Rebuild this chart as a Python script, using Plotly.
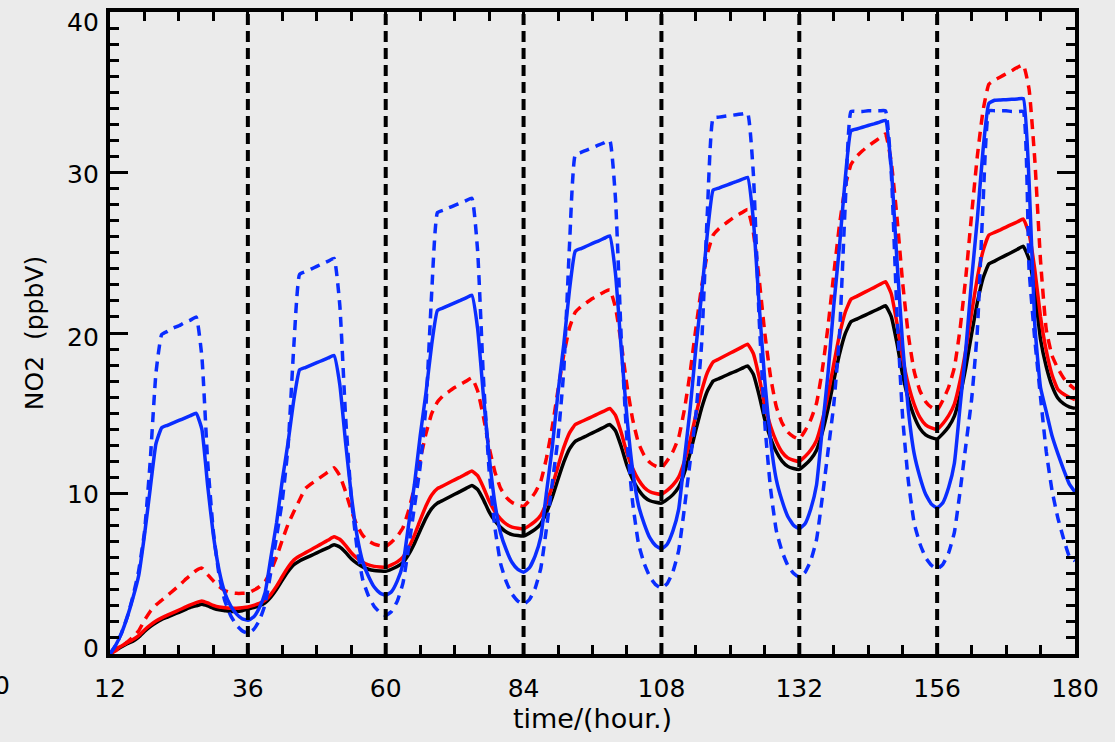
import plotly.graph_objects as go

# Hourly model output, t = 12 ... 180 h
hours = list(range(12, 181))

no2_base = [
    0.0, 0.25, 0.45, 0.65, 0.8, 1.05, 1.4, 1.7, 1.95, 2.15, 2.3, 2.45, 2.6, 2.75, 2.9, 3.0, 3.1, 3.0, 2.85, 2.75, 2.7, 2.65, 2.65, 2.7,
    2.8, 2.89, 3.01, 3.19, 3.55, 4.03, 4.6, 5.14, 5.56, 5.8, 5.97, 6.13, 6.3, 6.47, 6.63, 6.8, 6.67, 6.34, 5.94, 5.65, 5.43, 5.28, 5.2, 5.17,
    5.15, 5.28, 5.45, 5.7, 6.21, 6.89, 7.7, 8.47, 9.06, 9.4, 9.58, 9.77, 9.95, 10.13, 10.32, 10.5, 10.25, 9.62, 8.86, 8.3, 7.89, 7.6, 7.44, 7.38,
    7.35, 7.53, 7.76, 8.12, 8.83, 9.77, 10.89, 11.95, 12.78, 13.25, 13.43, 13.6, 13.78, 13.95, 14.13, 14.3, 13.91, 12.93, 11.75, 10.87, 10.23, 9.79, 9.55, 9.45,
    9.4, 9.63, 9.93, 10.39, 11.3, 12.52, 13.96, 15.33, 16.39, 17.0, 17.16, 17.32, 17.48, 17.63, 17.79, 17.95, 17.43, 16.14, 14.6, 13.44, 12.6, 12.02, 11.69, 11.56,
    11.5, 11.78, 12.14, 12.7, 13.8, 15.27, 17.02, 18.68, 19.96, 20.7, 20.87, 21.03, 21.2, 21.37, 21.53, 21.7, 21.04, 19.38, 17.38, 15.89, 14.81, 14.06, 13.65, 13.48,
    13.4, 13.73, 14.16, 14.82, 16.13, 17.87, 19.94, 21.9, 23.43, 24.3, 24.48, 24.67, 24.85, 25.03, 25.22, 25.4, 24.59, 22.57, 19.6, 17.9, 16.7, 15.95, 15.6, 15.4, 15.3,
]

no2_red = [
    0.0, 0.3, 0.5, 0.7, 0.9, 1.15, 1.5, 1.8, 2.05, 2.25, 2.42, 2.58, 2.74, 2.9, 3.06, 3.2, 3.3, 3.18, 3.03, 2.93, 2.88, 2.85, 2.85, 2.88,
    2.93, 3.03, 3.15, 3.34, 3.72, 4.23, 4.83, 5.4, 5.85, 6.1, 6.3, 6.5, 6.7, 6.9, 7.1, 7.3, 7.15, 6.77, 6.31, 5.97, 5.72, 5.55, 5.46, 5.42,
    5.4, 5.55, 5.74, 6.04, 6.63, 7.41, 8.34, 9.22, 9.91, 10.3, 10.48, 10.67, 10.85, 11.03, 11.22, 11.4, 11.11, 10.39, 9.53, 8.88, 8.41, 8.09, 7.91, 7.84,
    7.8, 8.0, 8.26, 8.65, 9.43, 10.47, 11.7, 12.87, 13.78, 14.3, 14.47, 14.63, 14.8, 14.97, 15.13, 15.3, 14.87, 13.8, 12.52, 11.56, 10.86, 10.38, 10.11, 10.0,
    9.95, 10.2, 10.53, 11.02, 12.01, 13.33, 14.9, 16.39, 17.54, 18.2, 18.38, 18.57, 18.75, 18.93, 19.12, 19.3, 18.72, 17.26, 15.5, 14.19, 13.24, 12.58, 12.22, 12.07,
    12.0, 12.3, 12.71, 13.31, 14.53, 16.14, 18.06, 19.88, 21.29, 22.1, 22.28, 22.47, 22.65, 22.83, 23.02, 23.2, 22.46, 20.62, 18.42, 16.76, 15.56, 14.74, 14.28, 14.09,
    14.0, 14.36, 14.85, 15.57, 17.03, 18.96, 21.26, 23.44, 25.13, 26.1, 26.27, 26.43, 26.6, 26.77, 26.93, 27.1, 26.2, 23.95, 21.0, 18.9, 17.4, 16.5, 16.2, 16.0, 15.85,
]

no2_red_dash = [
    0.0, 0.2, 0.45, 0.75, 1.05, 1.45, 2.1, 2.65, 3.05, 3.35, 3.65, 3.95, 4.25, 4.6, 4.9, 5.2, 5.35, 4.95, 4.55, 4.2, 3.95, 3.82, 3.78, 3.78,
    3.8, 3.97, 4.19, 4.52, 5.18, 6.06, 7.1, 8.09, 8.86, 9.6, 10.3, 10.6, 10.85, 11.1, 11.35, 11.6, 11.11, 10.13, 8.95, 8.02, 7.39, 7.04, 6.85, 6.75,
    6.7, 6.97, 7.33, 7.87, 8.95, 10.39, 12.1, 13.72, 14.98, 15.7, 16.1, 16.35, 16.6, 16.8, 17.0, 17.2, 16.4, 14.8, 12.88, 11.36, 10.32, 9.76, 9.44, 9.28,
    9.2, 9.56, 10.05, 10.77, 12.23, 14.16, 16.46, 18.64, 20.33, 21.3, 21.65, 21.9, 22.15, 22.35, 22.55, 22.7, 21.59, 19.37, 16.71, 14.6, 13.15, 12.38, 11.93, 11.71,
    11.6, 12.04, 12.62, 13.49, 15.23, 17.55, 20.3, 22.91, 24.94, 26.1, 26.5, 26.78, 27.05, 27.3, 27.5, 27.7, 26.27, 23.41, 19.98, 17.26, 15.4, 14.4, 13.83, 13.54,
    13.4, 13.91, 14.6, 15.62, 17.68, 20.41, 23.66, 26.74, 29.13, 30.5, 31.0, 31.35, 31.65, 31.9, 32.15, 32.4, 30.68, 27.24, 23.11, 19.84, 17.61, 16.4, 15.72, 15.37,
    15.2, 15.81, 16.62, 17.84, 20.28, 23.52, 27.38, 31.03, 33.88, 35.5, 35.75, 35.95, 36.15, 36.35, 36.55, 36.7, 35.2, 30.8, 24.5, 20.2, 18.6, 17.8, 17.2, 16.8, 16.5,
]

no2_blue = [
    0.0, 0.55, 1.3, 2.3, 3.5, 4.9, 7.4, 10.3, 13.1, 14.1, 14.25, 14.4, 14.55, 14.7, 14.85, 15.0, 14.0, 10.5, 7.4, 5.2, 3.8, 3.0, 2.5, 2.2,
    2.1, 2.3, 2.88, 3.82, 6.0, 8.18, 10.84, 13.18, 15.83, 17.7, 17.85, 18.0, 18.15, 18.3, 18.45, 18.6, 16.81, 13.22, 9.93, 7.39, 5.74, 4.85, 4.17, 3.8,
    3.65, 3.88, 4.54, 5.6, 8.09, 10.57, 13.59, 16.25, 19.27, 21.4, 21.56, 21.72, 21.88, 22.03, 22.19, 22.35, 20.28, 16.14, 12.35, 9.41, 7.52, 6.48, 5.7, 5.27,
    5.1, 5.36, 6.1, 7.3, 10.1, 12.9, 16.3, 19.3, 22.7, 25.1, 25.26, 25.42, 25.58, 25.73, 25.89, 26.05, 23.71, 19.03, 14.74, 11.43, 9.28, 8.11, 7.23, 6.75,
    6.55, 6.84, 7.67, 9.01, 12.14, 15.27, 19.07, 22.42, 26.22, 28.9, 29.03, 29.17, 29.3, 29.43, 29.57, 29.7, 27.07, 21.82, 17.0, 13.28, 10.87, 9.55, 8.57, 8.02,
    7.8, 8.12, 9.04, 10.53, 14.0, 17.47, 21.69, 25.41, 29.62, 32.6, 32.71, 32.82, 32.93, 33.03, 33.14, 33.25, 30.35, 24.56, 19.24, 15.14, 12.48, 11.03, 9.95, 9.34,
    9.1, 9.43, 10.37, 11.89, 15.45, 19.01, 23.32, 27.13, 31.45, 34.3, 34.5, 34.52, 34.54, 34.56, 34.58, 34.6, 29.5, 20.5, 16.6, 15.1, 13.6, 12.5, 11.5, 10.6, 10.1,
]

no2_blue_dash = [
    0.0, 0.55, 1.3, 2.3, 3.6, 5.2, 7.6, 12.0, 17.5, 19.9, 20.1, 20.3, 20.45, 20.65, 20.8, 21.0, 18.5, 12.0, 7.6, 4.9, 3.3, 2.4, 1.8, 1.45,
    1.3, 1.52, 2.08, 3.09, 5.1, 7.33, 9.57, 12.92, 19.18, 23.65, 23.82, 23.98, 24.15, 24.32, 24.48, 24.65, 21.76, 14.86, 9.74, 6.63, 4.63, 3.62, 2.96, 2.58,
    2.4, 2.65, 3.28, 4.41, 6.67, 9.18, 11.69, 15.45, 22.48, 27.5, 27.65, 27.8, 27.95, 28.1, 28.25, 28.4, 25.11, 17.27, 11.45, 7.91, 5.63, 4.49, 3.73, 3.3,
    3.1, 3.38, 4.08, 5.34, 7.86, 10.66, 13.46, 17.66, 25.5, 31.1, 31.25, 31.4, 31.55, 31.7, 31.85, 32.0, 28.37, 19.72, 13.31, 9.4, 6.89, 5.63, 4.8, 4.32,
    4.1, 4.39, 5.13, 6.44, 9.08, 12.01, 14.94, 19.34, 27.54, 33.4, 33.45, 33.5, 33.55, 33.6, 33.65, 33.7, 29.94, 20.98, 14.34, 10.29, 7.69, 6.39, 5.52, 5.03,
    4.8, 5.09, 5.82, 7.12, 9.73, 12.63, 15.53, 19.88, 28.0, 33.8, 33.8, 33.8, 33.85, 33.85, 33.85, 33.85, 30.1, 21.26, 14.71, 10.72, 8.15, 6.87, 6.01, 5.53,
    5.3, 5.59, 6.3, 7.58, 10.15, 13.01, 15.86, 20.15, 28.14, 33.85, 33.85, 33.85, 33.85, 33.8, 33.8, 33.8, 24.0, 19.6, 16.0, 12.6, 10.2, 8.5, 7.2, 6.1, 5.8,
]

# Day boundaries marked with dashed verticals
day_marks = [36, 60, 84, 108, 132, 156]
x_ticks = [12, 36, 60, 84, 108, 132, 156, 180]
y_ticks = [0, 10, 20, 30, 40]
y_label_shift = {0: 6, 10: -1, 20: -4, 30: -2, 40: -10}

BG = "#ebebeb"
FONT = "DejaVu Sans"
BLUE = "#0a2dff"
RED = "#ff0000"

fig = go.Figure()

series = [
    (no2_base, "black", "solid"),
    (no2_red, RED, "solid"),
    (no2_red_dash, RED, "10px,7px"),
    (no2_blue, BLUE, "solid"),
    (no2_blue_dash, BLUE, "10px,7px"),
]
for values, color, dash in series:
    fig.add_trace(go.Scatter(
        x=hours, y=values, mode="lines",
        line=dict(color=color, width=3.5, dash=dash, shape="spline", smoothing=0.4),
        showlegend=False, hoverinfo="skip",
    ))

for d in day_marks:
    fig.add_shape(type="line", xref="x", yref="paper", x0=d, x1=d, y0=0, y1=1,
                  line=dict(color="black", width=4, dash="11px,6px"), layer="above")

# y tick labels placed individually so the end labels sit inside the frame
for v in y_ticks:
    fig.add_annotation(x=0, xref="paper", y=v, yref="y", text=str(v),
                       showarrow=False, xanchor="right", yanchor="middle",
                       xshift=-9, yshift=y_label_shift[v],
                       font=dict(family=FONT, size=25, color="black"))

# stray tick label at the far left edge
fig.add_annotation(x=-0.1114, xref="paper", y=0, yref="paper", text="0",
                   showarrow=False, xanchor="center", yanchor="middle",
                   yshift=-31, font=dict(family=FONT, size=25, color="black"))

fig.update_layout(
    width=1115, height=742, autosize=False,
    margin=dict(l=110, r=40, t=8, b=88),
    paper_bgcolor=BG, plot_bgcolor=BG,
    font=dict(family=FONT, color="black"),
)

fig.update_xaxes(
    range=[12, 180], showgrid=False, zeroline=False,
    showline=True, linecolor="black", linewidth=4, mirror="ticks",
    tickmode="array", tickvals=x_ticks, ticktext=[str(v) for v in x_ticks],
    ticks="inside", ticklen=9, tickwidth=3, tickcolor="black",
    minor=dict(dtick=6, tick0=12, ticks="inside", ticklen=9, tickwidth=3,
               tickcolor="black", showgrid=False),
    tickfont=dict(family=FONT, size=25, color="black"),
    ticklabelstandoff=9,
    title=dict(text="time/(hour.)", font=dict(family=FONT, size=27, color="black"),
               standoff=1),
)

fig.update_yaxes(
    range=[0, 40], showgrid=False, zeroline=False,
    showline=True, linecolor="black", linewidth=4, mirror="ticks",
    tickmode="array", tickvals=y_ticks, showticklabels=False,
    ticks="inside", ticklen=18, tickwidth=3, tickcolor="black",
    minor=dict(dtick=1, tick0=0, ticks="inside", ticklen=9, tickwidth=3,
               tickcolor="black", showgrid=False),
    title=dict(text="NO2  (ppbV)", font=dict(family=FONT, size=25, color="black"),
               standoff=56),
)

fig.write_html("out.html")
